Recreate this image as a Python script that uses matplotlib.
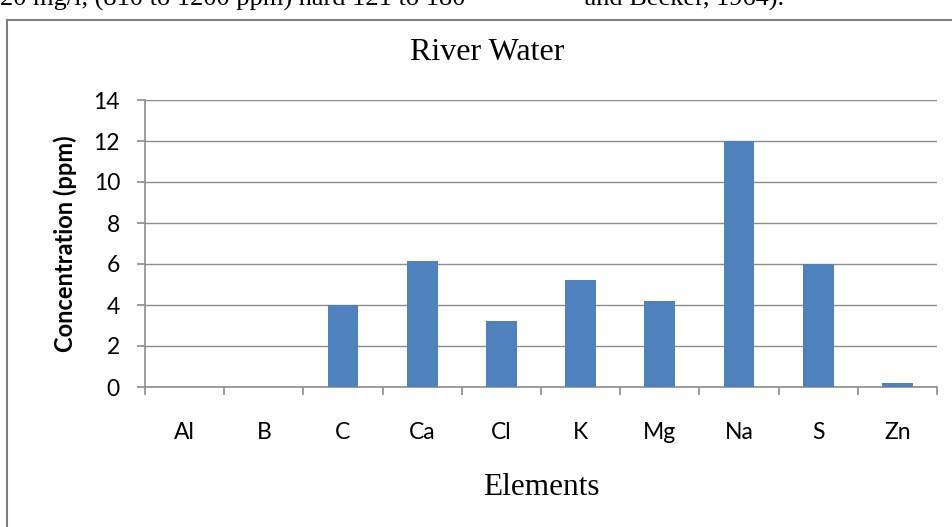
import matplotlib
matplotlib.use("Agg")
import matplotlib.pyplot as plt
from matplotlib.lines import Line2D

elements = ["Al", "B", "C", "Ca", "Cl", "K", "Mg", "Na", "S", "Zn"]
concentration = [0, 0, 4, 6.15, 3.2, 5.2, 4.2, 12, 6, 0.2]
y_ticks = [0, 2, 4, 6, 8, 10, 12, 14]

bar_color = "#4f81bd"
grid_color = "#8c8c8c"
sans = ["Lato", "DejaVu Sans"]
serif = ["Liberation Serif", "DejaVu Serif"]

fig = plt.figure(figsize=(9.53, 5.27), dpi=100)
W, H = 953, 527

# clipped line of document text above the chart
fig.text(0 / W, 1 - 6 / H, "20 mg/l, (810 to 1200 ppm) hard 121 to 180                  and Becker, 1964).",
         family=serif, fontsize=19, va="baseline", ha="left")

# chart frame (left and top edges visible)
fig.add_artist(Line2D([7 / W, 7 / W], [0, 1 - 20 / H], color="#7f7f7f", lw=1.5, transform=fig.transFigure))
fig.add_artist(Line2D([7 / W, 1], [1 - 20 / H, 1 - 20 / H], color="#7f7f7f", lw=1.5, transform=fig.transFigure))

ax = fig.add_axes([145 / W, 1 - 387 / H, (937 - 145) / W, (387 - 100) / H])
x = list(range(len(elements)))
ax.bar(x, concentration, width=0.39, color=bar_color, zorder=3)

ax.set_xlim(-0.5, len(elements) - 0.5)
ax.set_ylim(0, 14)
ax.set_yticks(y_ticks)
ax.set_yticklabels([str(t) for t in y_ticks], family=sans, fontsize=16.5)
ax.set_xticks([i - 0.5 for i in range(len(elements) + 1)], minor=False)
ax.set_xticklabels([])
ax.set_xticks(x, minor=True)
ax.set_xticklabels(elements, minor=True, family=sans, fontsize=16.5)
ax.tick_params(axis="x", which="major", length=6, color=grid_color, width=1.2)
ax.tick_params(axis="x", which="minor", length=0, pad=25)
ax.tick_params(axis="y", length=6, color=grid_color, width=1.2, pad=12)

ax.grid(axis="y", color=grid_color, lw=1.0, zorder=0)
for s in ["top", "right"]:
    ax.spines[s].set_visible(False)
ax.spines["left"].set_color(grid_color)
ax.spines["bottom"].set_color(grid_color)
ax.spines["left"].set_linewidth(1.2)
ax.spines["bottom"].set_linewidth(1.2)

ax.set_ylabel("Concentration (ppm)", family=sans, fontsize=17, fontweight="bold", labelpad=12)
fig.text(487 / W, 1 - 52 / H, "River Water", family=serif, fontsize=23, ha="center", va="center")
ax.set_xlabel("Elements", family=serif, fontsize=22.5, labelpad=22)

fig.savefig("out.png", dpi=100)
